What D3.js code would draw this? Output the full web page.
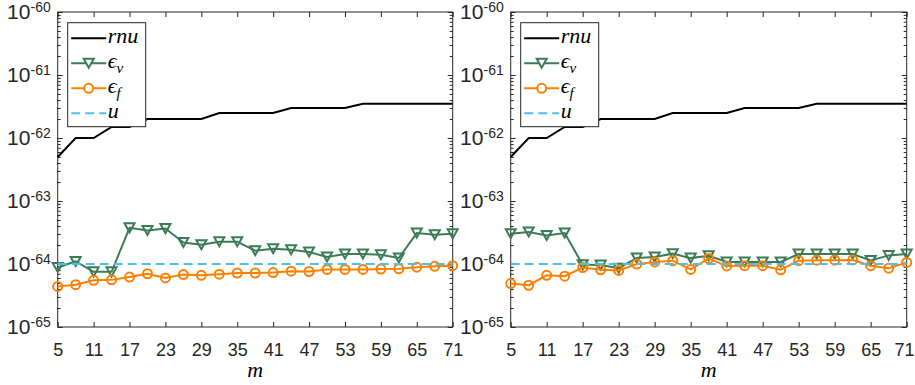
<!DOCTYPE html>
<meta charset="utf-8">
<script src="https://d3js.org/d3.v7.min.js"></script>
<style>
  body { margin: 0; background: #fff; }
  .tick text { font-family: "Liberation Sans", Arial, sans-serif; fill: #262626; }
  .leg text, .xlab { font-family: "Liberation Serif", "DejaVu Serif", serif; font-style: italic; fill: #000; }
</style>
<body>
<div id="canvas"></div>
<script>

    // valores de m (eixo x)
    var mValues = [5, 8, 11, 14, 17, 20, 23, 26, 29, 32, 35, 38, 41, 44, 47, 50, 53, 56, 59, 62, 65, 68, 71];
    var xTicks = [5, 11, 17, 23, 29, 35, 41, 47, 53, 59, 65, 71];
    var yTicks = [1e-65, 1e-64, 1e-63, 1e-62, 1e-61, 1e-60];

    // r*n*u (igual nos dois graficos)
    var rnu = [5e-63, 1e-62, 1e-62, 1.5e-62, 1.5e-62, 2e-62, 2e-62, 2e-62, 2e-62, 2.5e-62, 2.5e-62, 2.5e-62, 2.5e-62,
               3e-62, 3e-62, 3e-62, 3e-62, 3.5e-62, 3.5e-62, 3.5e-62, 3.5e-62, 3.5e-62, 3.5e-62];
    var u = 1e-64;

    // grafico da esquerda (em unidades de 1e-64)
    var epsV1 = [0.88, 1.10, 0.75, 0.75, 3.75, 3.40, 3.65, 2.20, 2.02, 2.26, 2.26, 1.63, 1.75, 1.69, 1.55,
                 1.29, 1.44, 1.44, 1.40, 1.25, 3.10, 2.92, 3.03];
    var epsF1 = [0.44, 0.47, 0.55, 0.56, 0.62, 0.70, 0.60, 0.68, 0.66, 0.69, 0.72, 0.72, 0.73, 0.77, 0.76,
                 0.82, 0.82, 0.82, 0.83, 0.84, 0.89, 0.92, 0.94];

    // grafico da direita
    var epsV2 = [3.03, 3.22, 2.84, 3.10, 0.97, 0.96, 0.86, 1.25, 1.29, 1.46, 1.24, 1.35, 1.08, 1.08, 1.08,
                 1.08, 1.44, 1.44, 1.44, 1.44, 1.14, 1.37, 1.44];
    var epsF2 = [0.49, 0.46, 0.66, 0.64, 0.88, 0.81, 0.79, 1.00, 1.08, 1.13, 0.82, 1.22, 0.93, 0.94, 0.94,
                 0.81, 1.13, 1.15, 1.15, 1.16, 0.94, 0.86, 1.06];

    var width = 915;
    var height = 385;

    var svg = d3.select('#canvas')
        .append("svg")
        .attr("width", width)
        .attr("height", height);

    var colors = {rnu: "#000000", v: "#3b7b56", f: "#ff8000", u: "#4dbeee"};
    var axisColor = "#262626";

    var panels = [
        {left: 57.7, right: 452.7, epsV: epsV1, epsF: epsF1},
        {left: 510.7, right: 906.7, epsV: epsV2, epsF: epsF2}
    ];
    var plotTop = 12, plotBottom = 327;

    var triangle = "M-5,-4.5L5,-4.5L0,4.5Z";

    // marcas secundarias do eixo log
    var minorTicks = [];
    for (var e = -65; e < -60; e++) {
        for (var k = 2; k <= 9; k++) minorTicks.push(k * Math.pow(10, e));
    }

    panels.forEach(function(p) {

        var x = d3.scaleLinear().domain([5, 71]).range([p.left, p.right]);
        var y = d3.scaleLog().domain([1e-65, 1e-60]).range([plotBottom, plotTop]);

        var g = svg.append("g");

        // eixo X ------------------------------------------------
        var xAxis = g.append("g")
            .attr("transform", "translate(0," + plotBottom + ")")
            .call(d3.axisBottom(x).tickValues(xTicks).tickSizeInner(-5).tickSizeOuter(0).tickPadding(16))
            .style("font-size", "18px");
        // nao deixa o ultimo rotulo sair da figura
        xAxis.selectAll(".tick text").each(function(d) {
            var w = this.getComputedTextLength();
            var over = x(d) + w / 2 - (width - 1);
            if (over > 0) d3.select(this).attr("dx", -over);
        });
        g.append("g")
            .attr("transform", "translate(0," + plotTop + ")")
            .call(d3.axisTop(x).tickValues(xTicks).tickSizeInner(-5).tickSizeOuter(0).tickFormat(""));

        // eixo Y ------------------------------------------------
        var yAxis = g.append("g")
            .attr("transform", "translate(" + p.left + ",0)")
            .call(d3.axisLeft(y).tickValues(yTicks).tickSizeInner(-5).tickSizeOuter(0).tickPadding(7).tickFormat(""))
            .style("font-size", "21px");
        yAxis.selectAll(".tick text").each(function(d) {
            var t = d3.select(this);
            t.append("tspan").text("10");
            t.append("tspan").attr("dy", "-0.5em").style("font-size", "14px")
                .text(Math.round(Math.log10(d)));
        });
        g.append("g")
            .attr("transform", "translate(" + p.left + ",0)")
            .call(d3.axisLeft(y).tickValues(minorTicks).tickSizeInner(-3).tickSizeOuter(0).tickFormat(""));
        g.append("g")
            .attr("transform", "translate(" + p.right + ",0)")
            .call(d3.axisRight(y).tickValues(yTicks).tickSizeInner(-5).tickSizeOuter(0).tickFormat(""));
        g.append("g")
            .attr("transform", "translate(" + p.right + ",0)")
            .call(d3.axisRight(y).tickValues(minorTicks).tickSizeInner(-3).tickSizeOuter(0).tickFormat(""));

        g.selectAll(".domain").remove();
        g.selectAll(".tick line").attr("stroke", axisColor);

        // caixa
        g.append("rect")
            .attr("x", p.left).attr("y", plotTop)
            .attr("width", p.right - p.left).attr("height", plotBottom - plotTop)
            .attr("fill", "none").attr("stroke", axisColor).attr("stroke-width", 1);

        // rotulo m
        g.append("text")
            .attr("class", "xlab")
            .attr("x", (p.left + p.right) / 2)
            .attr("y", 377)
            .attr("text-anchor", "middle")
            .style("font-size", "22px")
            .text("m");

        var line = d3.line()
            .x(function(d, i) { return x(mValues[i]); })
            .y(function(d) { return y(d); });

        // rnu
        g.append("path")
            .attr("d", line(rnu))
            .attr("stroke", colors.rnu).attr("stroke-width", 2).attr("fill", "none");

        // eps_v
        var vVals = p.epsV.map(function(d) { return d * 1e-64; });
        g.append("path")
            .attr("d", line(vVals))
            .attr("stroke", colors.v).attr("stroke-width", 2).attr("fill", "none");
        g.selectAll(".tri")
            .data(vVals)
            .enter()
            .append("path")
            .attr("d", triangle)
            .attr("transform", function(d, i) { return "translate(" + x(mValues[i]) + "," + y(d) + ")"; })
            .attr("stroke", colors.v).attr("stroke-width", 2).attr("fill", "none");

        // eps_f
        var fVals = p.epsF.map(function(d) { return d * 1e-64; });
        g.append("path")
            .attr("d", line(fVals))
            .attr("stroke", colors.f).attr("stroke-width", 2).attr("fill", "none");
        g.selectAll(".circ")
            .data(fVals)
            .enter()
            .append("circle")
            .attr("cx", function(d, i) { return x(mValues[i]); })
            .attr("cy", function(d) { return y(d); })
            .attr("r", 4.5)
            .attr("stroke", colors.f).attr("stroke-width", 2).attr("fill", "none");

        // u
        g.append("line")
            .attr("x1", x(5)).attr("x2", x(71))
            .attr("y1", y(u)).attr("y2", y(u))
            .attr("stroke", colors.u).attr("stroke-width", 2).attr("stroke-dasharray", "9,5");

        // legenda --------------------------------------------------
        var lg = g.append("g").attr("class", "leg")
            .attr("transform", "translate(" + (p.left + 10) + "," + 22.7 + ")");
        lg.append("rect")
            .attr("width", 78).attr("height", 104)
            .attr("fill", "#fff").attr("stroke", axisColor).attr("stroke-width", 1);

        var items = [
            {key: "rnu", color: colors.rnu, dash: null, marker: null},
            {key: "v", color: colors.v, dash: null, marker: "tri"},
            {key: "f", color: colors.f, dash: null, marker: "circ"},
            {key: "u", color: colors.u, dash: "9,5", marker: null}
        ];
        items.forEach(function(it, i) {
            var yy = 15.6 + i * 25;
            lg.append("line")
                .attr("x1", 3.5).attr("x2", 38.5).attr("y1", yy).attr("y2", yy)
                .attr("stroke", it.color).attr("stroke-width", 2)
                .attr("stroke-dasharray", it.dash);
            if (it.marker == "tri") {
                lg.append("path").attr("d", triangle)
                    .attr("transform", "translate(21," + yy + ")")
                    .attr("stroke", it.color).attr("stroke-width", 2).attr("fill", "#fff");
            }
            if (it.marker == "circ") {
                lg.append("circle").attr("cx", 21).attr("cy", yy).attr("r", 4.5)
                    .attr("stroke", it.color).attr("stroke-width", 2).attr("fill", "#fff");
            }
            var t = lg.append("text")
                .attr("x", 40).attr("y", yy + 5)
                .style("font-size", "22px");
            if (it.key == "rnu") t.text("rnu");
            else if (it.key == "u") t.text("u");
            else {
                t.append("tspan").text("\u03f5");
                t.append("tspan").attr("dy", "5").style("font-size", "15px").text(it.key);
            }
        });
    });

</script>
</body>
